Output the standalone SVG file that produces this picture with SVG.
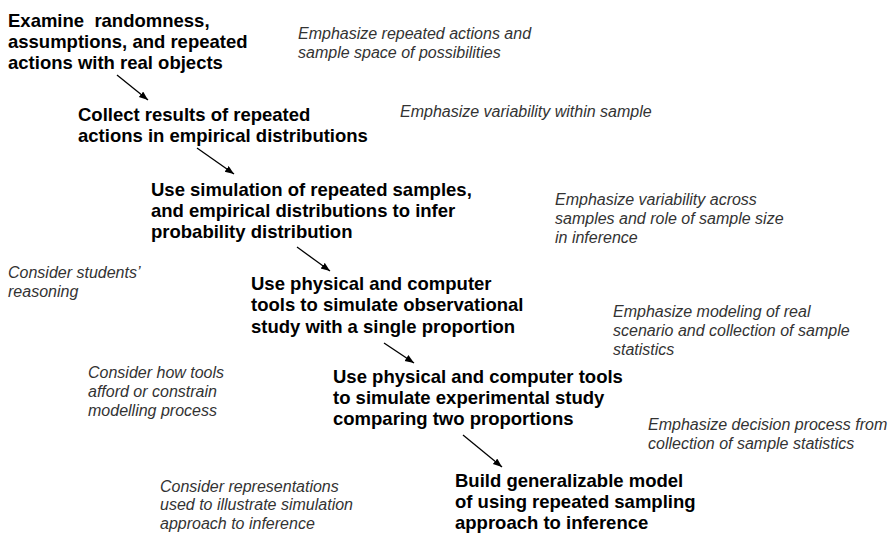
<svg xmlns="http://www.w3.org/2000/svg" width="896" height="535" viewBox="0 0 896 535">
  <style>
    .step { font-family: "Liberation Sans", Arial, sans-serif; font-weight: bold; font-size: 18.5px; fill: #000; }
    .note { font-family: "Liberation Sans", Arial, sans-serif; font-style: italic; font-size: 16px; fill: #333; }
    .link { stroke: #000; stroke-width: 1.3; fill: none; marker-end: url(#head); }
  </style>
  <defs>
    <marker id="head" markerUnits="userSpaceOnUse" markerWidth="10" markerHeight="8" refX="9" refY="3.5" orient="auto">
      <path d="M0,0 L9,3.5 L0,7 z" fill="#000"/>
    </marker>
  </defs>
  <rect width="896" height="535" fill="#fff"/>

  <!-- sequence of modelling steps -->
  <g id="step-examine">
    <text class="step" xml:space="preserve"><tspan x="8" y="27">Examine  randomness,</tspan><tspan x="8" y="48">assumptions, and repeated</tspan><tspan x="8" y="69">actions with real objects</tspan></text>
  </g>
  <g id="step-collect">
    <text class="step"><tspan x="78" y="121">Collect results of repeated</tspan><tspan x="78" y="142">actions in empirical distributions</tspan></text>
  </g>
  <g id="step-simulate">
    <text class="step"><tspan x="151" y="196">Use simulation of repeated samples,</tspan><tspan x="151" y="217">and empirical distributions to infer</tspan><tspan x="151" y="238">probability distribution</tspan></text>
  </g>
  <g id="step-observational">
    <text class="step"><tspan x="251" y="290">Use physical and computer</tspan><tspan x="251" y="311">tools to simulate observational</tspan><tspan x="251" y="333">study with a single proportion</tspan></text>
  </g>
  <g id="step-experimental">
    <text class="step"><tspan x="333" y="383">Use physical and computer tools</tspan><tspan x="333" y="404">to simulate experimental study</tspan><tspan x="333" y="425">comparing two proportions</tspan></text>
  </g>
  <g id="step-generalize">
    <text class="step"><tspan x="455" y="487">Build generalizable model</tspan><tspan x="455" y="508">of using repeated sampling</tspan><tspan x="455" y="529">approach to inference</tspan></text>
  </g>

  <!-- emphasis notes (right) -->
  <g id="note-emphasis-1">
    <text class="note"><tspan x="298" y="39">Emphasize repeated actions and</tspan><tspan x="298" y="58">sample space of possibilities</tspan></text>
  </g>
  <g id="note-emphasis-2">
    <text class="note"><tspan x="400" y="117">Emphasize variability within sample</tspan></text>
  </g>
  <g id="note-emphasis-3">
    <text class="note"><tspan x="555" y="205">Emphasize variability across</tspan><tspan x="555" y="224">samples and role of sample size</tspan><tspan x="555" y="243">in inference</tspan></text>
  </g>
  <g id="note-emphasis-4">
    <text class="note"><tspan x="613" y="317">Emphasize modeling of real</tspan><tspan x="613" y="336">scenario and collection of sample</tspan><tspan x="613" y="355">statistics</tspan></text>
  </g>
  <g id="note-emphasis-5">
    <text class="note"><tspan x="648" y="430">Emphasize decision process from</tspan><tspan x="648" y="449">collection of sample statistics</tspan></text>
  </g>

  <!-- consideration notes (left) -->
  <g id="note-consider-1">
    <text class="note"><tspan x="8" y="278">Consider students’</tspan><tspan x="8" y="297">reasoning</tspan></text>
  </g>
  <g id="note-consider-2">
    <text class="note"><tspan x="88" y="378">Consider how tools</tspan><tspan x="88" y="397">afford or constrain</tspan><tspan x="88" y="416">modelling process</tspan></text>
  </g>
  <g id="note-consider-3">
    <text class="note"><tspan x="160" y="492">Consider representations</tspan><tspan x="160" y="510">used to illustrate simulation</tspan><tspan x="160" y="529">approach to inference</tspan></text>
  </g>

  <!-- connectors between steps -->
  <g id="connectors">
    <line class="link" x1="117" y1="75" x2="148" y2="100"/>
    <line class="link" x1="197" y1="148" x2="234" y2="174"/>
    <line class="link" x1="297" y1="247" x2="330" y2="271"/>
    <line class="link" x1="384" y1="343" x2="414" y2="363"/>
    <line class="link" x1="463" y1="435" x2="502" y2="467"/>
  </g>
</svg>
